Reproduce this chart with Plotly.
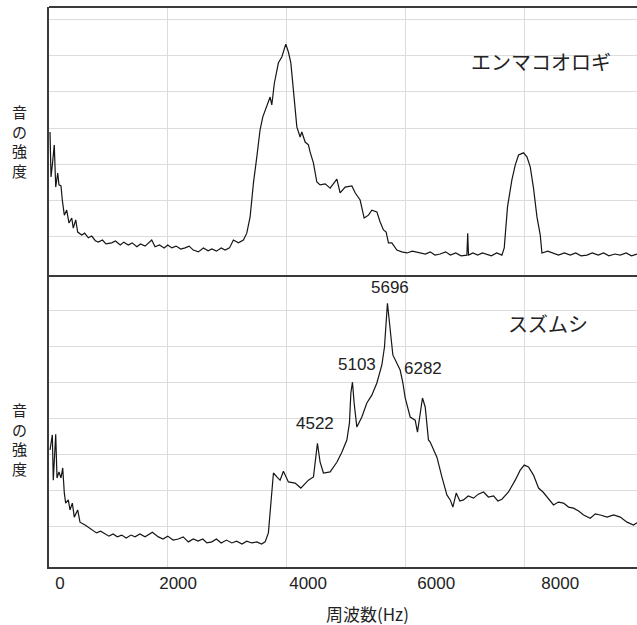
import plotly.graph_objects as go

# ---------------- data (frequency in Hz, intensity in arbitrary units) ----------------
emma_freq = [17, 25, 34, 56, 89, 113, 147, 168, 202, 224, 258, 298, 337, 383, 409, 450, 483, 551,
             600, 662, 720, 780, 831, 900, 960, 1056, 1120, 1200, 1260, 1336, 1400, 1480, 1540, 1618,
             1730, 1786, 1860, 1940, 2000, 2067, 2140, 2220, 2292, 2360, 2430, 2516, 2600, 2680, 2742,
             2820, 2900, 2966, 3040, 3105, 3190, 3274, 3331, 3387, 3443, 3500, 3555, 3601, 3668, 3724,
             3752, 3796, 3864, 3921, 3988, 4032, 4073, 4116, 4174, 4229, 4258, 4314, 4369, 4398, 4453,
             4511, 4566, 4651, 4735, 4848, 4903, 4988, 5101, 5156, 5240, 5308, 5380, 5437, 5522, 5577,
             5633, 5678, 5717, 5774, 5859, 5940, 6027, 6120, 6251, 6340, 6420, 6500, 6588, 6680, 6760,
             6850, 6940, 7038, 7052, 7065, 7140, 7220, 7300, 7375, 7450, 7540, 7628, 7667, 7722, 7796,
             7852, 7908, 7992, 8049, 8105, 8160, 8218, 8273, 8302, 8400, 8497, 8580, 8680, 8779, 8870,
             8960, 9060, 9150, 9250, 9340, 9430, 9530, 9621, 9720, 9810, 9903]
emma_level = [40.0, 28.1, 27.5, 30.8, 36.4, 24.7, 28.6, 25.3, 25.0, 21.1, 16.9, 18.3, 14.7, 16.1, 13.3,
              15.6, 12.2, 11.4, 11.9, 10.6, 11.1, 9.8, 9.4, 10.0, 8.9, 9.2, 9.7, 8.6, 9.4, 8.6, 9.2,
              8.1, 8.9, 8.3, 10.0, 8.1, 8.6, 7.8, 8.6, 7.8, 8.3, 7.5, 7.8, 8.3, 7.2, 6.7, 7.8, 7.0, 7.5,
              6.9, 7.8, 7.2, 7.8, 10.0, 9.2, 10.0, 11.9, 16.4, 25.8, 33.1, 40.6, 44.2, 47.5, 49.7,
              47.5, 53.6, 59.2, 60.8, 64.4, 62.2, 59.2, 51.7, 41.4, 38.6, 40.0, 37.2, 36.4, 34.4, 31.4,
              26.1, 25.3, 25.6, 24.4, 26.9, 23.1, 24.7, 25.0, 23.1, 21.1, 16.1, 16.9, 18.3, 17.8, 15.0,
              12.8, 12.2, 9.2, 9.2, 7.2, 6.7, 6.4, 6.9, 6.4, 6.1, 6.7, 5.8, 6.1, 6.7, 5.8,
              6.4, 5.6, 5.8, 11.9, 5.8, 6.4, 5.8, 6.4, 6.1, 5.6, 6.4, 5.8, 7.8, 19.2, 26.7,
              30.8, 33.6, 34.2, 33.1, 30.3, 24.4, 16.4, 11.4, 6.4, 6.9, 6.4, 5.8, 6.4, 5.8, 6.4,
              5.6, 5.8, 6.4, 5.8, 6.4, 5.6, 6.1, 5.8, 6.4, 5.6, 6.1]

suzu_freq = [17, 56, 72, 113, 135, 168, 202, 231, 258, 281, 325, 354, 393, 426, 483, 522, 607, 660,
             719, 800, 870, 944, 1010, 1080, 1150, 1225, 1300, 1380, 1450, 1530, 1618, 1741, 1842,
             1920, 2000, 2090, 2179, 2260, 2347, 2430, 2510, 2590, 2660, 2742, 2820, 2900, 2990,
             3079, 3160, 3250, 3330, 3416, 3500, 3580, 3640, 3695, 3736, 3780, 3837, 3892, 3948,
             4032, 4145, 4241, 4369, 4454, 4521, 4566, 4622, 4735, 4848, 4932, 5016, 5060, 5084,
             5111, 5139, 5185, 5269, 5353, 5437, 5522, 5606, 5650, 5700, 5746, 5791, 5859, 5914,
             5960, 5999, 6083, 6167, 6206, 6251, 6290, 6336, 6391, 6420, 6533, 6617, 6701, 6757,
             6802, 6858, 6920, 6981, 7060, 7150, 7230, 7318, 7400, 7487, 7560, 7628, 7739, 7852,
             7936, 8004, 8076, 8160, 8245, 8320, 8386, 8440, 8497, 8580, 8666, 8750, 8834, 8920,
             9003, 9116, 9200, 9284, 9400, 9509, 9621, 9734, 9845, 9903]
suzu_level = [32.6, 36.8, 24.2, 37.0, 24.8, 26.5, 24.8, 27.6, 20.6, 17.8, 18.7, 15.9, 17.8, 13.9, 15.9,
              12.5, 11.7, 11.1, 10.3, 9.5, 10.0, 9.2, 8.6, 9.2, 8.4, 8.9, 8.1, 8.9, 8.4, 9.2, 8.4,
              9.7, 8.4, 7.8, 8.6, 7.5, 7.8, 8.4, 7.0, 7.8, 7.2, 7.8, 6.7, 7.0, 7.8, 6.7, 7.5, 6.7,
              7.2, 6.4, 7.2, 6.7, 7.0, 6.4, 7.0, 9.5, 16.7, 26.2, 25.1, 24.2, 26.7, 23.7, 23.4,
              22.0, 24.2, 25.1, 34.5, 29.2, 26.2, 26.5, 29.2, 32.0, 35.4, 40.1, 48.5, 51.5, 45.7,
              39.0, 41.8, 45.7, 47.9, 51.3, 56.3, 61.3, 73.5, 66.0, 59.1, 56.8, 54.9, 51.3, 47.1,
              41.8, 40.9, 37.6, 43.2, 47.1, 44.6, 35.4, 34.8, 30.6, 25.1, 20.1, 18.7, 16.7, 20.6,
              18.4, 18.7, 19.8, 19.2, 20.3, 20.9, 19.5, 19.8, 18.4, 18.9, 20.9, 24.2, 27.0, 28.4,
              27.9, 25.6, 22.0, 20.9, 19.5, 18.4, 17.3, 18.1, 17.8, 16.7, 16.4, 15.6, 14.5, 13.6,
              14.8, 14.5, 13.9, 14.5, 13.9, 12.5, 11.7, 12.3]

peak_labels = ["4522", "5103", "5696", "6282"]
peak_label_x = [4482, 5190, 5746, 6302]
peak_label_y = [40.1, 56.3, 78.0, 55.2]

grid_freqs = [0, 2000, 4000, 6000, 8000]
tick_text = ["0", "2000", "4000", "6000", "8000"]
tick_label_pos = [185, 2174, 4364, 6521, 8610]

top_grid = [11.1, 21.1, 31.1, 41.1, 51.1, 61.1, 71.1]
bottom_grid = [11.4, 21.4, 31.4, 41.4, 51.4, 61.4, 71.4]

species_top = "エンマコオロギ"
species_bottom = "スズムシ"
y_title = "音<br>の<br>強<br>度"
x_title = "周波数(Hz)"

# ---------------- figure ----------------
JP = "Noto Sans CJK JP"
LAT = "Liberation Sans, Arial, sans-serif"
LINE = "#151515"
GRID = "#dcdcdc"
BORDER = "#3a3a3a"

W, H = 637, 625
ml, mr, mt, mb = 49, 0, 7, 58
PW, PH = W - ml - mr, H - mt - mb
split = 291 / PH  # fraction of plot height of lower panel


def px_to_paper(px, py):
    return (px - ml) / PW, 1 - (py - mt) / PH


fig = go.Figure()
fig.add_trace(go.Scatter(x=emma_freq, y=emma_level, mode="lines",
                         line=dict(color=LINE, width=1.2), xaxis="x2", yaxis="y2",
                         showlegend=False, hoverinfo="skip"))
fig.add_trace(go.Scatter(x=suzu_freq, y=suzu_level, mode="lines",
                         line=dict(color=LINE, width=1.2), xaxis="x", yaxis="y",
                         showlegend=False, hoverinfo="skip"))

xrange = [0, 9903]
common_x = dict(range=xrange, showgrid=False, zeroline=False, ticks="",
                minor=dict(tickvals=grid_freqs, showgrid=True, gridcolor=GRID, gridwidth=1, ticks=""))

fig.update_layout(
    width=W, height=H,
    margin=dict(l=ml, r=mr, t=mt, b=mb),
    paper_bgcolor="white", plot_bgcolor="white",
    xaxis=dict(**common_x, domain=[0, 1], anchor="y",
               tickmode="array", tickvals=tick_label_pos, ticktext=tick_text,
               tickfont=dict(family=LAT, size=17, color="#222"),
               showline=True, linecolor=BORDER, linewidth=2),
    xaxis2=dict(**common_x, domain=[0, 1], anchor="y2", showticklabels=False,
                showline=False),
    yaxis=dict(domain=[0, split], range=[0, 81.1], tickmode="array", tickvals=bottom_grid,
               showticklabels=False, showgrid=True, gridcolor=GRID, zeroline=False,
               ticks="", showline=True, linecolor=BORDER, linewidth=2),
    yaxis2=dict(domain=[split, 1], range=[0, 74.7], tickmode="array", tickvals=top_grid,
                showticklabels=False, showgrid=True, gridcolor=GRID, zeroline=False,
                ticks="", showline=True, linecolor=BORDER, linewidth=2),
)

# panel borders: top edge and separator
fig.add_shape(type="line", xref="paper", yref="paper", x0=0, x1=1, y0=1, y1=1,
              line=dict(color=BORDER, width=2))
fig.add_shape(type="line", xref="paper", yref="paper", x0=0, x1=1, y0=split, y1=split,
              line=dict(color=BORDER, width=2))

annotations = []


def paper_text(text, px, py, size, family):
    x, y = px_to_paper(px, py)
    annotations.append(dict(text=text, xref="paper", yref="paper", x=x, y=y,
                            xanchor="center", yanchor="middle", showarrow=False,
                            font=dict(family=family, size=size, color="#222")))


paper_text(species_top, 541, 62, 20, JP)
paper_text(species_bottom, 548, 323, 20, JP)
for lab, lx, ly in zip(peak_labels, peak_label_x, peak_label_y):
    annotations.append(dict(text=lab, xref="x", yref="y", x=lx, y=ly, showarrow=False,
                            xanchor="center", yanchor="middle",
                            font=dict(family=LAT, size=17, color="#222")))
paper_text(y_title, 19, 141, 15, JP)
paper_text(y_title, 19, 439, 15, JP)
paper_text(x_title, 367, 613, 17, JP)
fig.update_layout(annotations=annotations)

fig.write_html("out.html")
